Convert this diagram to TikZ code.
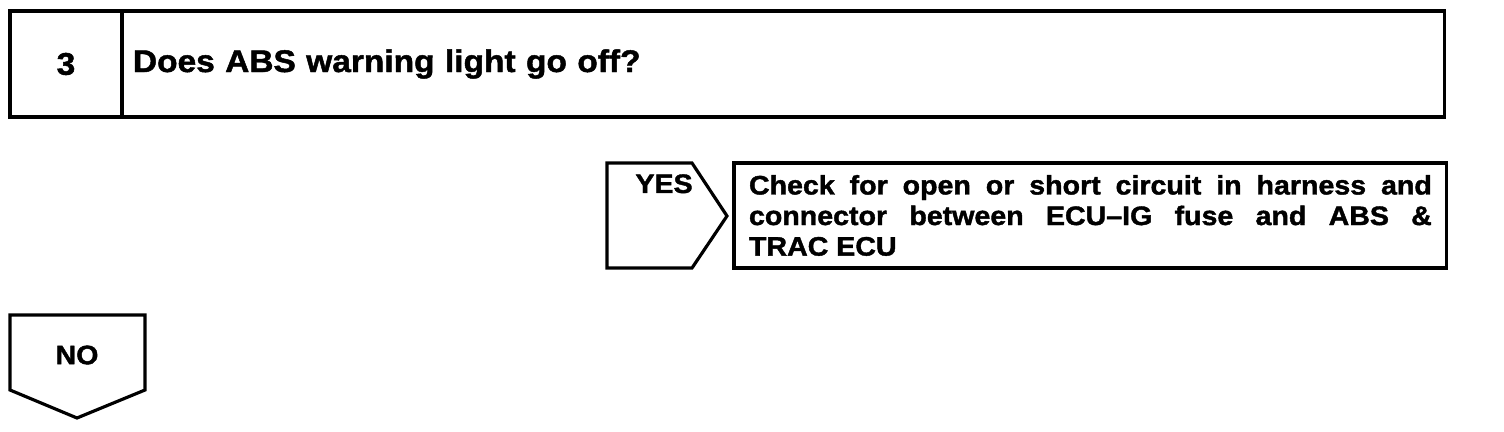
\documentclass[tikz,border=0pt]{standalone}
\usepackage{fontspec}
\setmainfont{Liberation Sans}[FakeStretch=1.07,BoldFeatures={FakeBold=1.5}]
\usetikzlibrary{positioning}
\begin{document}
\begin{tikzpicture}[
  x=0.02cm,y=-0.02cm,
  frame/.style={draw,line width=1.8pt,outer sep=0pt},
  big/.style={font=\fontsize{17.8}{20}\selectfont\bfseries},
  small/.style={font=\fontsize{15.2}{17.4}\selectfont\bfseries},
  numbox/.style={frame,big,minimum width=2.24cm,minimum height=2.12cm,inner sep=0pt},
  qbox/.style={frame,big,minimum width=26.46cm,minimum height=2.12cm,text width=26.02cm,inner xsep=0.22cm,inner ysep=0pt,align=left},
  result/.style={frame,small,text width=13.66cm,inner xsep=0.3cm,minimum height=2.1cm,align=justify},
  tag/.style={small,inner sep=0pt}
]
\useasboundingbox (0,0) rectangle (1504,432);
% step 3
\node[numbox] (num) at (66,64) {3};
\node[qbox,right=0pt of num] (question) {Does ABS warning light go off?};
% YES branch
\draw[frame,line join=miter] (607,163) -- (692,163) -- (727,216) -- (692,268) -- (607,268) -- cycle;
\node[tag,anchor=north east] (yes) at (693,174) {YES};
\node[result,anchor=north west] (check) at (734,163) {Check for open or short circuit in harness and\linebreak connector between ECU--IG fuse and ABS \&\linebreak TRAC ECU};
% NO branch
\draw[frame] (10,315) -- (145,315) -- (145,390) -- (77,418) -- (10,390) -- cycle;
\node[tag] (no) at (77,355) {NO};
\end{tikzpicture}
\end{document}
